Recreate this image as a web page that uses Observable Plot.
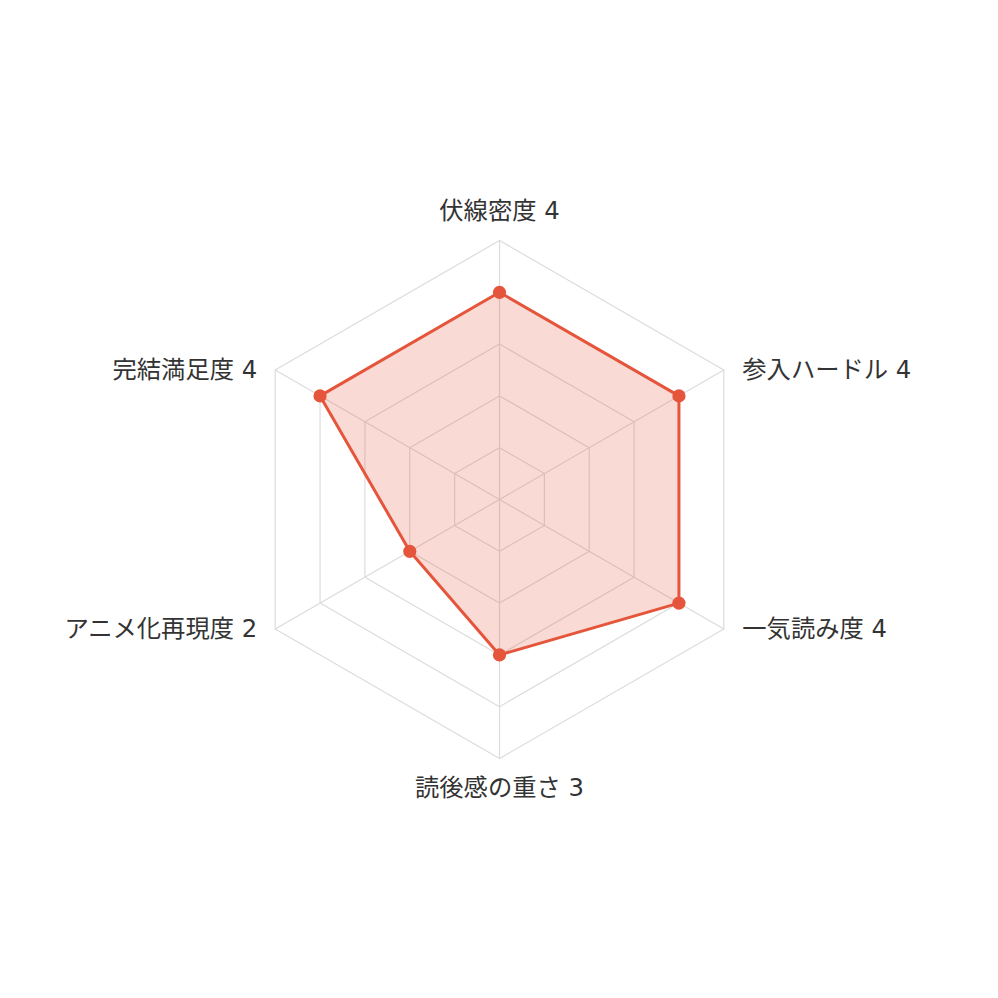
<!DOCTYPE html>
<html><head><meta charset="utf-8">
<script src="https://cdn.jsdelivr.net/npm/d3@7"></script>
<script src="https://cdn.jsdelivr.net/npm/@observablehq/plot@0.6"></script>
<style>
html,body{margin:0;padding:0;background:#fff;}
</style>
</head><body>
<div id="chart"></div>
<script>
const axes = ["伏線密度", "参入ハードル", "一気読み度", "読後感の重さ", "アニメ化再現度", "完結満足度"];
const values = [4, 4, 4, 3, 2, 4];
const levels = [1, 2, 3, 4, 5];
const maxValue = 5;

const n = axes.length;
const ang = i => i * 2 * Math.PI / n; // clockwise from top
const px = (i, r) => r * Math.sin(ang(i));
const py = (i, r) => r * Math.cos(ang(i));

// grid rings
const rings = [];
levels.forEach(l => {
  for (let i = 0; i <= n; i++) rings.push({level: l, x: px(i % n, l), y: py(i % n, l)});
});
// spokes
const spokes = [];
axes.forEach((a, i) => {
  spokes.push({axis: a, x: 0, y: 0});
  spokes.push({axis: a, x: px(i, maxValue), y: py(i, maxValue)});
});
// data polygon
const poly = values.map((v, i) => ({x: px(i, v), y: py(i, v)}));
const polyClosed = [...poly, poly[0]];
// labels
const labels = axes.map((a, i) => {
  const sx = Math.sin(ang(i));
  const side = Math.abs(sx) < 0.01 ? (Math.cos(ang(i)) > 0 ? "top" : "bottom") : (sx > 0 ? "right" : "left");
  return {text: `${a} ${values[i]}`, x: px(i, maxValue), y: py(i, maxValue), side};
});

const unit = 51.8;
const half = 499 / unit;
const color = "#e5553b";
const font = "'DejaVu Sans', 'Noto Sans CJK JP', sans-serif";
const fs = 24.3;

const chart = Plot.plot({
  width: 998,
  height: 998,
  margin: 0,
  x: {domain: [-half, half], axis: null},
  y: {domain: [-half, half], axis: null},
  style: {background: "#fff", fontFamily: font},
  marks: [
    Plot.line(rings, {x: "x", y: "y", z: "level", stroke: "#dcdcdc", strokeWidth: 1.2}),
    Plot.line(spokes, {x: "x", y: "y", z: "axis", stroke: "#dcdcdc", strokeWidth: 1.2}),
    Plot.line(polyClosed, {x: "x", y: "y", fill: color, fillOpacity: 0.22, stroke: "none"}),
    Plot.line(polyClosed, {x: "x", y: "y", stroke: color, strokeWidth: 3, strokeLinejoin: "round"}),
    Plot.dot(poly, {x: "x", y: "y", r: 6.6, fill: color}),
    Plot.text(labels.filter(d => d.side === "top"), {x: "x", y: "y", text: "text", dy: -29, textAnchor: "middle", fontSize: fs, fill: "#333"}),
    Plot.text(labels.filter(d => d.side === "bottom"), {x: "x", y: "y", text: "text", dy: 30, textAnchor: "middle", fontSize: fs, fill: "#333"}),
    Plot.text(labels.filter(d => d.side === "right"), {x: "x", y: "y", text: "text", dx: 18.5, textAnchor: "start", fontSize: fs, fill: "#333"}),
    Plot.text(labels.filter(d => d.side === "left"), {x: "x", y: "y", text: "text", dx: -18, textAnchor: "end", fontSize: fs, fill: "#333"})
  ]
});
document.getElementById("chart").appendChild(chart);
</script>
</body></html>
